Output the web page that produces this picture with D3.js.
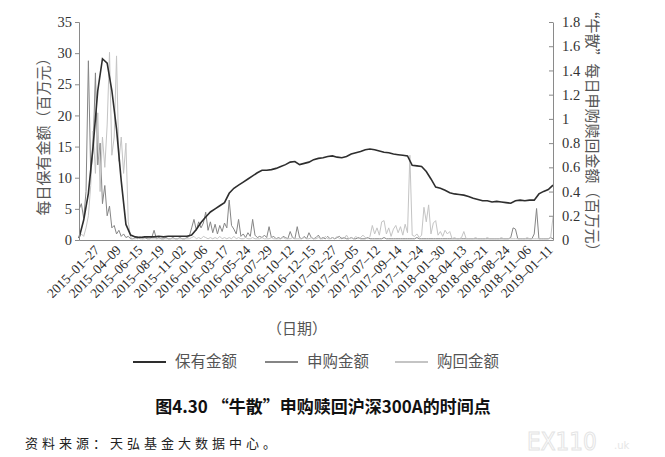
<!DOCTYPE html>
<html>
<head>
<meta charset="utf-8">
<script src="https://cdn.jsdelivr.net/npm/d3@7"></script>
<style>
  body { margin: 0; background: #fff; }
  svg text { font-family: "Liberation Serif", serif; }
  svg .cjk { font-family: "Noto Sans CJK SC", sans-serif; }
</style>
</head>
<body>
<div id="chart"></div>
<script>
(function () {
  // x labels, one every 46 trading days
  const DATE_LABELS = [
    "2015–01–27", "2015–04–09", "2015–06–15", "2015–08–19", "2015–11–02",
    "2016–01–06", "2016–03–17", "2016–05–24", "2016–07–29", "2016–10–12",
    "2016–12–15", "2017–02–27", "2017–05–05", "2017–07–12", "2017–09–14",
    "2017–11–24", "2018–01–30", "2018–04–13", "2018–06–21", "2018–08–24",
    "2018–11–06", "2019–01–11",
  ];
  const LEFT_TICKS = [0, 5, 10, 15, 20, 25, 30, 35];
  const RIGHT_TICKS = [0, 0.2, 0.4, 0.6, 0.8, 1, 1.2, 1.4, 1.6, 1.8];
  const SERIES_NAMES = ["保有金额", "申购金额", "购回金额"];

  // daily holding amount (left axis), one reading every 10 trading days
  const HOLDING = [
    0.3, 3.2, 7.5, 15.0, 24.0, 29.1, 28.4, 24.0, 17.8, 9.5,
    2.5, 0.8, 0.5, 0.4, 0.5, 0.5, 0.5, 0.6, 0.5, 0.6,
    0.6, 0.6, 0.6, 0.6, 0.8, 1.7, 2.8, 3.7, 4.5, 5.0,
    5.5, 6.0, 7.5, 8.3, 8.8, 9.3, 9.8, 10.3, 10.8, 11.2,
    11.2, 11.3, 11.5, 11.8, 12.1, 12.5, 12.6, 12.1, 12.3, 12.5,
    12.9, 13.1, 13.2, 13.4, 13.5, 13.3, 13.2, 13.4, 13.8, 14.0,
    14.2, 14.5, 14.6, 14.5, 14.3, 14.1, 14.0, 13.8, 13.7, 13.6,
    13.5, 12.0, 11.9, 11.8, 11.0, 9.8, 8.5, 8.3, 8.0, 7.6,
    7.4, 7.3, 7.2, 7.0, 6.7, 6.5, 6.3, 6.3, 6.1, 6.2,
    6.1, 6.0, 5.9, 6.3, 6.4, 6.3, 6.4, 6.4, 7.4, 7.8,
    8.1, 8.8,
  ];

  // daily purchase amount (right axis), one reading every 5 trading days
  const PURCHASE = [
    0.25, 0.30, 0.18, 0.40, 1.48, 0.55, 0.75, 1.38, 0.62, 0.80,
    0.30, 0.45, 0.20, 0.28, 0.10, 0.12, 0.05, 0.08, 0.03, 0.05,
    0.02, 0.03, 0.01, 0.01, 0.02, 0.01, 0.03, 0.01, 0.02, 0.01,
    0.01, 0.02, 0.08, 0.01, 0.02, 0.01, 0.01, 0.02, 0.01, 0.01,
    0.02, 0.01, 0.01, 0.02, 0.01, 0.01, 0.02, 0.03,
    0.10, 0.17, 0.08, 0.15, 0.10, 0.14, 0.23, 0.08, 0.15, 0.06,
    0.13, 0.05, 0.12, 0.07, 0.14, 0.10, 0.33, 0.12, 0.09, 0.05,
    0.17, 0.03, 0.05, 0.02, 0.06, 0.03, 0.17, 0.04, 0.02, 0.03,
    0.02, 0.04, 0.02, 0.11, 0.02, 0.03, 0.01, 0.02, 0.01, 0.03,
    0.02, 0.01, 0.07, 0.02, 0.01, 0.11, 0.02, 0.01, 0.03, 0.01,
    0.06, 0.02, 0.01, 0.02, 0.04, 0.01, 0.02, 0.01, 0.03, 0.01,
    0.02, 0.01, 0.02, 0.03, 0.01, 0.02, 0.01, 0.01, 0.02, 0.01,
    0.01, 0.02, 0.01, 0.01, 0.01, 0.02, 0.01, 0.01, 0.01, 0.01,
    0.01, 0.01, 0.02, 0.01, 0.01, 0.01, 0.01, 0.01, 0.01, 0.01,
    0.01, 0.01, 0.01, 0.01, 0.01, 0.01, 0.02, 0.01, 0.01, 0.01,
    0.01, 0.01, 0.01, 0.01, 0.01, 0.01, 0.01, 0.01, 0.01, 0.01,
    0.01, 0.01, 0.01, 0.01, 0.01, 0.01, 0.01, 0.01, 0.01, 0.01,
    0.01, 0.01, 0.01, 0.01, 0.01, 0.01, 0.01, 0.01, 0.01, 0.01,
    0.01, 0.01, 0.01, 0.01, 0.01, 0.01, 0.02, 0.10, 0.09, 0.01,
    0.01, 0.01, 0.01, 0.01, 0.01, 0.01, 0.05, 0.26, 0.01, 0.01,
    0.01, 0.01, 0.01, 0.02, 0.01,
  ];

  // daily redemption amount (right axis), one reading every 5 trading days
  const REDEMPTION = [
    0.02, 0.05, 0.03, 0.10, 0.20, 0.45, 0.90, 0.55, 1.05, 0.40,
    0.85, 0.60, 0.95, 1.55, 0.70, 0.85, 1.52, 0.65, 0.85, 0.55,
    0.80, 0.15, 0.02, 0.01, 0.01, 0.02, 0.01, 0.01, 0.01, 0.02,
    0.01, 0.01, 0.01, 0.01, 0.01, 0.01, 0.01, 0.01, 0.01, 0.01,
    0.01, 0.01, 0.01, 0.01, 0.01, 0.01, 0.01, 0.01,
    0.02, 0.03, 0.01, 0.02, 0.01, 0.03, 0.02, 0.01, 0.02, 0.01,
    0.02, 0.01, 0.03, 0.01, 0.02, 0.01, 0.02, 0.01, 0.03, 0.01,
    0.02, 0.01, 0.01, 0.02, 0.01, 0.01, 0.02, 0.01, 0.01, 0.01,
    0.02, 0.01, 0.01, 0.01, 0.02, 0.01, 0.01, 0.01, 0.01, 0.02,
    0.01, 0.01, 0.01, 0.02, 0.01, 0.01, 0.01, 0.01, 0.02, 0.01,
    0.01, 0.02, 0.01, 0.01, 0.02, 0.01, 0.01, 0.03, 0.01, 0.01,
    0.02, 0.01, 0.03, 0.01, 0.02, 0.01, 0.04, 0.01, 0.02, 0.01,
    0.03, 0.01, 0.02, 0.04, 0.02, 0.01, 0.03, 0.12, 0.05, 0.10,
    0.04, 0.15, 0.16, 0.05, 0.10, 0.03, 0.09, 0.12, 0.06, 0.11,
    0.04, 0.13, 0.06, 0.70, 0.04, 0.03, 0.05, 0.02, 0.04, 0.27,
    0.15, 0.29, 0.05, 0.14, 0.16, 0.04, 0.07, 0.03, 0.08, 0.05,
    0.07, 0.01, 0.02, 0.01, 0.01, 0.02, 0.07, 0.01, 0.01, 0.01,
    0.01, 0.02, 0.01, 0.01, 0.01, 0.01, 0.02, 0.01, 0.01, 0.01,
    0.01, 0.01, 0.02, 0.01, 0.01, 0.01, 0.01, 0.01, 0.01, 0.01,
    0.01, 0.01, 0.01, 0.02, 0.01, 0.01, 0.01, 0.01, 0.01, 0.01,
    0.01, 0.01, 0.01, 0.02, 0.19,
  ];

  const HOLD_STEP = 10;
  const FLOW_STEP = 5;
  const LABEL_FIRST = 40;
  const LABEL_EVERY = 46;
  const DAY_SPAN = 1010;

  const COLORS = ["#2e2e2e", "#858585", "#c4c4c4"];

  const plot = { left: 79, right: 553, top: 22, bottom: 240 };

  const svg = d3
    .select("#chart")
    .append("svg")
    .attr("width", 665)
    .attr("height", 457);

  const x = d3.scaleLinear().domain([0, DAY_SPAN]).range([plot.left, plot.right]);
  const yLeft = d3.scaleLinear().domain([0, 35]).range([plot.bottom, plot.top]);
  const yRight = d3.scaleLinear().domain([0, 1.8]).range([plot.bottom, plot.top]);

  // flows first, holding line on top
  const flowLine = d3
    .line()
    .x((d, i) => x(i * FLOW_STEP))
    .y((d) => yRight(d));

  svg
    .append("path")
    .datum(PURCHASE)
    .attr("d", flowLine)
    .attr("fill", "none")
    .attr("stroke", COLORS[1])
    .attr("stroke-width", 1);

  svg
    .append("path")
    .datum(REDEMPTION)
    .attr("d", flowLine)
    .attr("fill", "none")
    .attr("stroke", COLORS[2])
    .attr("stroke-width", 1);

  svg
    .append("path")
    .datum(HOLDING)
    .attr(
      "d",
      d3
        .line()
        .x((d, i) => x(i * HOLD_STEP))
        .y((d) => yLeft(d))
    )
    .attr("fill", "none")
    .attr("stroke", COLORS[0])
    .attr("stroke-width", 1.6);

  // left axis
  const axL = svg
    .append("g")
    .attr("transform", `translate(${plot.left},0)`)
    .call(d3.axisLeft(yLeft).tickValues(LEFT_TICKS).tickSize(4).tickPadding(3));

  // right axis, ticks pointing inwards
  const axR = svg
    .append("g")
    .attr("transform", `translate(${plot.right},0)`)
    .call(
      d3
        .axisRight(yRight)
        .tickValues(RIGHT_TICKS)
        .tickFormat(d3.format("~g"))
        .tickSizeInner(-4)
        .tickSizeOuter(0)
        .tickPadding(9)
    );

  // bottom axis
  const axB = svg
    .append("g")
    .attr("transform", `translate(0,${plot.bottom})`)
    .call(
      d3
        .axisBottom(x)
        .tickValues(DATE_LABELS.map((_, k) => LABEL_FIRST + k * LABEL_EVERY))
        .tickFormat((d, k) => DATE_LABELS[k])
        .tickSize(0)
    );

  [axL, axR, axB].forEach((ax) => {
    ax.select(".domain").attr("stroke", "#8a8a8a");
    ax.selectAll(".tick line").attr("stroke", "#8a8a8a");
    ax.selectAll("text").attr("fill", "#333").style("font-family", "Liberation Serif");
  });
  axL.selectAll("text").style("font-size", "14.5px");
  axR.selectAll("text").style("font-size", "14.5px");
  axB
    .selectAll("text")
    .attr("x", 0)
    .attr("y", 0)
    .attr("dy", 0)
    .attr("text-anchor", "end")
    .attr("transform", "translate(2,11) rotate(-45)")
    .attr("fill", "#2a2a2a")
    .style("font-size", "13.5px");

  // axis titles
  svg
    .append("text")
    .attr("class", "cjk")
    .attr("transform", "translate(49,133) rotate(-90)")
    .attr("text-anchor", "middle")
    .attr("fill", "#555")
    .style("font-size", "15px")
    .text("每日保有金额（百万元）");

  svg
    .append("text")
    .attr("class", "cjk")
    .attr("transform", "translate(587,131) rotate(90)")
    .attr("text-anchor", "middle")
    .attr("fill", "#555")
    .style("font-size", "15px")
    .text("“牛散”每日申购赎回金额（百万元）");

  svg
    .append("text")
    .attr("class", "cjk")
    .attr("x", 297)
    .attr("y", 334)
    .attr("text-anchor", "middle")
    .attr("fill", "#555")
    .style("font-size", "15px")
    .text("（日期）");

  // legend
  const legendX = [133, 265, 395];
  const legend = svg
    .selectAll(".legend")
    .data(SERIES_NAMES)
    .join("g")
    .attr("class", "legend")
    .attr("transform", (d, i) => `translate(${legendX[i]},362)`);
  legend
    .append("line")
    .attr("x1", 0)
    .attr("x2", 33)
    .attr("stroke", (d, i) => COLORS[i])
    .attr("stroke-width", 2);
  legend
    .append("text")
    .attr("class", "cjk")
    .attr("x", 42)
    .attr("dy", "0.35em")
    .attr("fill", "#555")
    .style("font-size", "15.5px")
    .text((d) => d);

  // caption
  svg
    .append("text")
    .attr("class", "cjk")
    .attr("x", 323)
    .attr("y", 413)
    .attr("text-anchor", "middle")
    .attr("fill", "#111")
    .style("font-size", "17px")
    .style("font-weight", "bold")
    .text("图4.30  “牛散”申购赎回沪深300A的时间点");

  svg
    .append("text")
    .attr("class", "cjk")
    .attr("x", 25)
    .attr("y", 448)
    .attr("fill", "#222")
    .style("font-size", "13px")
    .style("letter-spacing", "4px")
    .text("资料来源：天弘基金大数据中心。");

  // faint watermark
  svg
    .append("text")
    .attr("x", 527)
    .attr("y", 450)
    .attr("fill", "none")
    .attr("stroke", "#e4e4e4")
    .style("font-family", "DejaVu Sans Condensed, DejaVu Sans")
    .style("font-size", "24px")
    .text("EX110");
  svg
    .append("text")
    .attr("x", 614)
    .attr("y", 449)
    .attr("fill", "#e6e6e6")
    .style("font-family", "DejaVu Sans")
    .style("font-size", "10px")
    .text(".uk");
})();
</script>
</body>
</html>
